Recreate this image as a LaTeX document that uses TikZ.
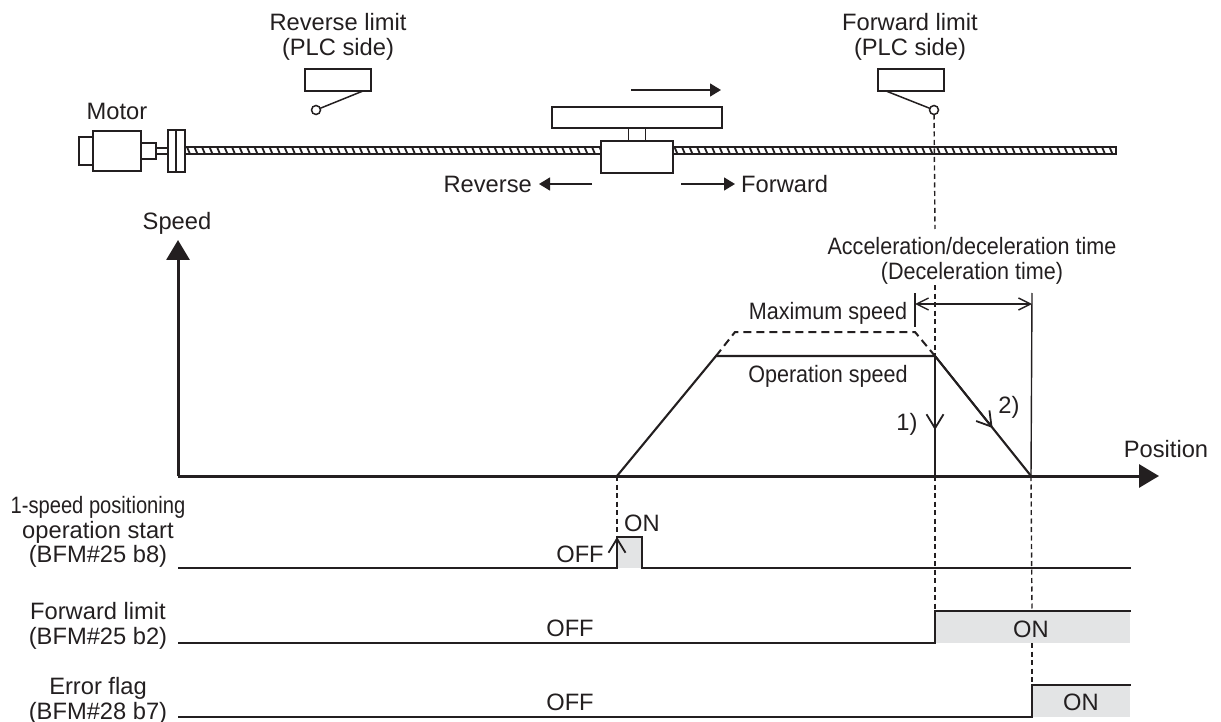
\documentclass[tikz,border=0pt]{standalone}
\usepackage{fontspec}
\setmainfont{Liberation Sans}
\newfontfamily\narrowfont[FakeStretch=0.91]{Liberation Sans}
\newfontfamily\narrowerfont[FakeStretch=0.85]{Liberation Sans}
\usepackage{xcolor}
\usetikzlibrary{arrows.meta,positioning,calc}
\definecolor{inkcol}{HTML}{231F20}
\definecolor{shadecol}{HTML}{E3E4E5}
\tikzset{
  x=1pt, y=-1pt,
  lbl/.style={inner sep=0pt, align=center, text=inkcol, font=\fontsize{23.7}{24.5}\selectfont},
  narrowlbl/.style={lbl, font=\fontsize{23.7}{24.5}\selectfont\narrowfont},
  partbox/.style={draw=inkcol, line width=1.5pt, fill=white, inner sep=0pt, outer sep=0pt},
  sigline/.style={draw=inkcol, line width=2.1pt},
  axisline/.style={draw=inkcol, line width=3pt, -{Triangle[length=20pt,width=23pt]}},
  guide/.style={draw=inkcol, line width=1.4pt, dash pattern=on 5pt off 3.5pt},
  arr/.style={draw=inkcol, line width=1.5pt, -{Triangle[length=11pt,width=13pt]}},
  openarr/.style={draw=inkcol, line width=1.8pt, -{Straight Barb[length=14pt,width=17pt]}},
}
\begin{document}
\begin{tikzpicture}
  \useasboundingbox (0,0) rectangle (1221,722);
  % screw
  \draw[inkcol, line width=1.5pt, fill=white] (185,147) rectangle (1116,154);
  \foreach \i in {0,...,123} {
    \draw[inkcol, line width=1.8pt] ({187+\i*7.5},147) -- ({190+\i*7.5},154);
  }
  % motor
  \node[partbox, minimum width=14pt, minimum height=28pt] (rearcap) at (86,151) {};
  \node[partbox, minimum width=48pt, minimum height=40pt, right=0pt of rearcap] (motor) {};
  \node[partbox, minimum width=15pt, minimum height=16pt, right=0pt of motor] (shaft) {};
  \node[partbox, minimum width=12pt, minimum height=6pt, right=0pt of shaft] (neck) {};
  \node[partbox, minimum width=8pt, minimum height=42pt, right=0pt of neck] (couplea) {};
  \node[partbox, minimum width=9pt, minimum height=42pt, right=0pt of couplea] (coupleb) {};
  \node[lbl] (motorlbl) at (117,111) {Motor};
  % table
  \node[partbox, minimum width=72pt, minimum height=32pt] (nut) at (637,157) {};
  \node[partbox, minimum width=17pt, minimum height=13pt, above=0pt of nut] (post) {};
  \node[partbox, minimum width=170pt, minimum height=21pt, above=0pt of post] (table) {};
  \coordinate (tabfrom) at (631,90);
  \coordinate (tabto) at (721,90);
  \draw[arr] (tabfrom) -- (tabto);
  \node[lbl, anchor=east] (revlbl) at (532,184) {Reverse};
  \node[lbl, anchor=west] (fwdlbl) at (741,184) {Forward};
  \coordinate (revfrom) at (592,184);
  \coordinate (fwdfrom) at (681,184);
  \draw[arr] (revfrom) -- ($(revlbl.east)+(7,0)$);
  \draw[arr] (fwdfrom) -- ($(fwdlbl.west)+(-6,0)$);
  % limit switches
  \node[partbox, minimum width=66pt, minimum height=22pt] (revsw) at (338,80) {};
  \node[partbox, circle, minimum size=9pt] (revpin) at (316,110) {};
  \draw[partbox] ($(revsw.south east)+(-8,0)$) -- (revpin);
  \node[lbl] (revcap) at (338,37) {Reverse limit\\(PLC side)};
  \node[partbox, minimum width=66pt, minimum height=22pt] (fwdsw) at (911,80) {};
  \node[partbox, circle, minimum size=9pt] (fwdpin) at (934,110) {};
  \draw[partbox] ($(fwdsw.south west)+(8,0)$) -- (fwdpin);
  \node[lbl] (fwdcap) at (910,37) {Forward limit\\(PLC side)};
  % speed chart
  \coordinate (orig) at (178,476);
  \coordinate (speedtop) at (178,240);
  \coordinate (posend) at (1159,476);
  \coordinate (rampa) at (617,476);
  \coordinate (rampb) at (716,356);
  \coordinate (rampc) at (935,356);
  \coordinate (rampd) at (1031,476);
  \coordinate (dropb) at (935,476);
  \draw[axisline] (orig) -- (speedtop);
  \draw[axisline] (orig) -- (posend);
  \draw[sigline] (rampa) -- (rampb) -- (rampc) -- (rampd);
  \draw[sigline] (rampc) -- (dropb);
  \draw[draw=inkcol, line width=2pt, dash pattern=on 8pt off 5pt] (rampb) -- (735,332) -- (915,332) -- (rampc);
  \draw[openarr] (rampc) -- (935,430);
  \draw[openarr] (rampc) -- ($(rampc)!0.6!(rampd)$);
  \node[lbl] (spdlbl) at (177,223) {Speed};
  \node[lbl] (poslbl) at (1166,449) {Position};
  \node[narrowlbl] (maxlbl) at (828,313) {Maximum speed};
  \node[narrowlbl] (oplbl) at (828,376) {Operation speed};
  \node[lbl] (onelbl) at (907,424) {1)};
  \node[lbl] (twolbl) at (1009,407) {2)};
  \node[narrowlbl] (acclbl) at (972,261) {Acceleration/deceleration time\\(Deceleration time)};
  % time bracket
  \coordinate (brka) at (915,304);
  \coordinate (brkb) at (1032,304);
  \draw[inkcol, line width=1.4pt] (915,293) -- (915,327);
  \draw[inkcol, line width=1.4pt] (1032,293) -- (rampd);
  \draw[inkcol, line width=1.4pt, {Straight Barb[length=12pt,width=12pt]}-{Straight Barb[length=12pt,width=12pt]}] (brka) -- (brkb);
  % signals
  \fill[shadecol] (617,537) rectangle (642,568);
  \fill[shadecol] (935,611) rectangle (1130,643);
  \fill[shadecol] (1032,685) rectangle (1130,717);
  \draw[sigline] (178,568) -- (617,568) -- (617,537) -- (642,537) -- (642,568) -- (1131,568);
  \draw[sigline] (178,643) -- (935,643) -- (935,611) -- (1131,611);
  \draw[sigline] (178,717) -- (1032,717) -- (1032,685) -- (1131,685);
  \draw[openarr] (617,568) -- (617,537);
  % guide lines
  \draw[guide] (fwdpin) -- (935,229);
  \draw[guide] (935,285) -- (rampc);
  \draw[guide] (dropb) -- (935,611);
  \draw[guide] (rampd) -- (1032,611);
  \draw[guide] (1032,643) -- (1032,685);
  \draw[guide] (rampa) -- (617,537);
  % signal labels
  \node[lbl] (startlbl) at (98,532) {{\narrowerfont 1-speed positioning}\\operation start\\(BFM\#25 b8)};
  \node[lbl] (fwdsig) at (98,626) {Forward limit\\(BFM\#25 b2)};
  \node[lbl] (errsig) at (98,701) {Error flag\\(BFM\#28 b7)};
  \node[lbl] (offa) at (580,554) {OFF};
  \node[lbl] (ona) at (642,523) {ON};
  \node[lbl] (offb) at (570,628) {OFF};
  \node[lbl] (onb) at (1031,629) {ON};
  \node[lbl] (offc) at (570,702) {OFF};
  \node[lbl] (onc) at (1081,702) {ON};
\end{tikzpicture}
\end{document}
